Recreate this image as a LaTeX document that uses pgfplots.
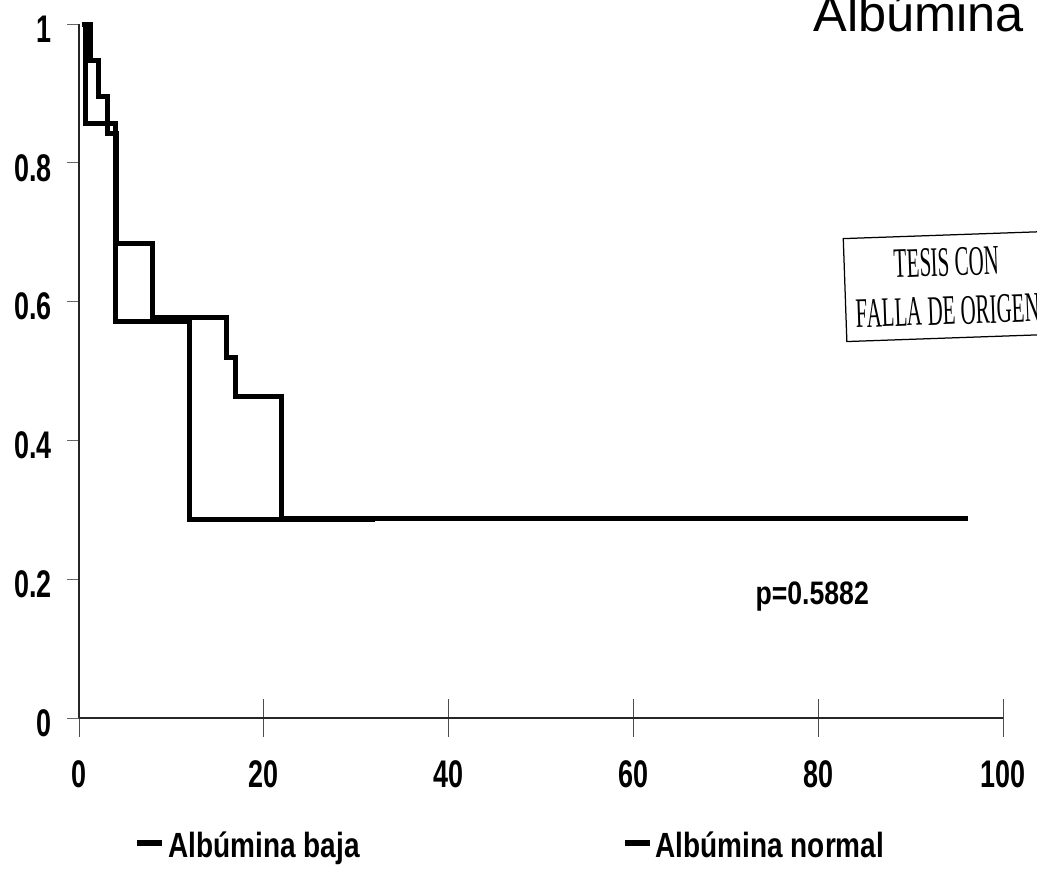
\documentclass[border=0pt]{standalone}
\usepackage{pgfplots}
\pgfplotsset{compat=1.18}
\usepackage{fontspec}
\setmainfont{Liberation Sans}
\newfontfamily\bn{Liberation Sans}[FakeStretch=0.7]
\newfontfamily\legfont{Liberation Sans}[FakeStretch=0.8]
\newfontfamily\pn{Liberation Sans}[FakeStretch=0.82]
\newfontfamily\stampfont{Liberation Serif}[FakeStretch=0.5]
\begin{document}
\begin{tikzpicture}
\path[use as bounding box] (0pt,0pt) rectangle (414.8pt,349.2pt);
\begin{axis}[
  at={(31.6pt,62pt)}, anchor=south west,
  scale only axis, width=369.6pt, height=277.6pt,
  xmin=0, xmax=100, ymin=0, ymax=1,
  axis lines=left, axis line style={-, line width=0.7pt, black!85},
  xtick={0,20,40,60,80,100},
  ytick={0,0.2,0.4,0.6,0.8,1},
  yticklabels={0,0.2,0.4,0.6,0.8,1},
  xtick align=center, ytick align=outside,
  major tick length=4.8pt,
  xtick style={line width=0.4pt, black!70, /pgfplots/major tick length=15pt},
  ytick style={line width=0.4pt, black!60},
  /pgf/number format/assume math mode=true,
  ticklabel style={font=\bn\bfseries\fontsize{15.4}{18}\selectfont},
  xticklabel style={anchor=base, yshift=-25.2pt, inner sep=0pt},
  yticklabel style={anchor=east, inner sep=0pt, xshift=-6pt, yshift=-2pt},
  clip=false,
]
% Albumina normal (thick outer curve)
\addplot[const plot, line width=2pt, black] coordinates {
 (0.3,1) (1.2,0.947) (2.1,0.895) (3.1,0.842) (4.1,0.684) (8.0,0.577) (16.0,0.520) (16.9,0.463) (21.9,0.288) (96.2,0.288)
};
% Albumina baja
\addplot[const plot, line width=2pt, black] coordinates {
 (0.3,1) (0.7,0.857) (4.0,0.571) (12.0,0.286) (32.0,0.286)
};
\end{axis}
\node[anchor=base west, inner sep=0pt, font=\fontsize{20.2}{24}\selectfont] at (325.2pt,336.8pt) {Albúmina};
\node[draw, line width=0.5pt, rotate=2, minimum width=82pt, minimum height=41.2pt, align=center, inner sep=1pt,
      font=\stampfont\fontsize{16.8}{19.5}\selectfont] at (379pt,234.6pt) {TESIS CON\\FALLA DE ORIGEN};
\node[anchor=base west, inner sep=0pt, font=\pn\bfseries\fontsize{13}{15}\selectfont] at (302pt,107.6pt) {p=0.5882};
\draw[line width=2.6pt] (54.8pt,12pt) -- (64.8pt,12pt);
\node[anchor=base west, inner sep=0pt, font=\legfont\bfseries\fontsize{14}{16}\selectfont] at (67.2pt,6.4pt) {Albúmina baja};
\draw[line width=2.6pt] (250pt,12pt) -- (260pt,12pt);
\node[anchor=base west, inner sep=0pt, font=\legfont\bfseries\fontsize{14}{16}\selectfont] at (262pt,6.4pt) {Albúmina normal};
\end{tikzpicture}
\end{document}
